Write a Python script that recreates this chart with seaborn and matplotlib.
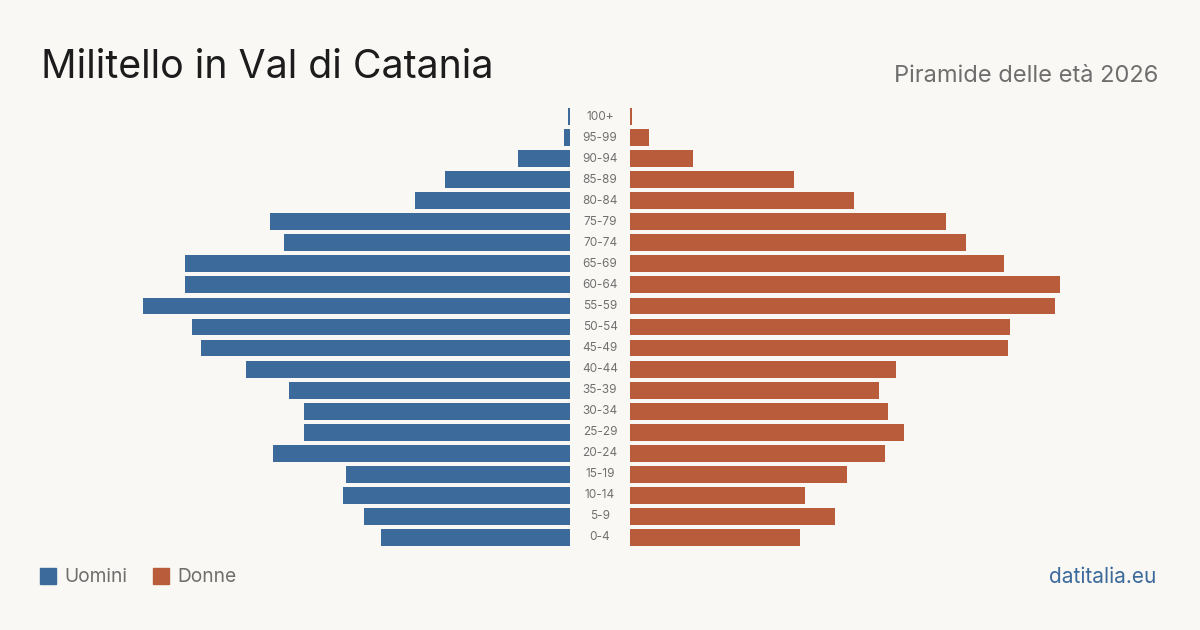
import matplotlib
matplotlib.use("Agg")
import matplotlib.pyplot as plt
import seaborn as sns
import pandas as pd
from matplotlib.patches import Rectangle

age_groups = ["100+", "95-99", "90-94", "85-89", "80-84", "75-79", "70-74", "65-69",
              "60-64", "55-59", "50-54", "45-49", "40-44", "35-39", "30-34", "25-29",
              "20-24", "15-19", "10-14", "5-9", "0-4"]
uomini = [2, 6, 52, 125, 155, 300, 286, 385, 385, 427, 378, 369, 324, 281, 266, 266,
          297, 224, 227, 206, 189]
donne = [2, 19, 63, 164, 224, 316, 336, 374, 430, 425, 380, 378, 266, 249, 258, 274,
         255, 217, 175, 205, 170]

BG = "#f9f8f4"
BLUE = "#3b6a9b"
ORANGE = "#b95c3c"

sns.set_theme(style="white")
plt.rcParams["font.family"] = ["Inter", "DejaVu Sans"]

df = pd.DataFrame({"age": age_groups, "Uomini": uomini, "Donne": donne})

W, H = 1200, 630
fig = plt.figure(figsize=(W / 100, H / 100), dpi=100)
fig.patch.set_facecolor(BG)

top, bottom = 106, 548
span = 450
axL = fig.add_axes([(570 - span) / W, 1 - bottom / H, span / W, (bottom - top) / H])
axR = fig.add_axes([630 / W, 1 - bottom / H, span / W, (bottom - top) / H])

sns.barplot(data=df, y="age", x="Uomini", order=age_groups, orient="h",
            color=BLUE, saturation=1, width=0.8, linewidth=0, edgecolor="none", ax=axL)
sns.barplot(data=df, y="age", x="Donne", order=age_groups, orient="h",
            color=ORANGE, saturation=1, width=0.8, linewidth=0, edgecolor="none", ax=axR)

axL.set_xlim(span, 0)
axR.set_xlim(0, span)
for ax in (axL, axR):
    ax.set_ylim(len(age_groups) - 0.5, -0.5)
    ax.set_facecolor("none")
    ax.axis("off")

# centre age labels
for i, lab in enumerate(age_groups):
    y = top + (i + 0.5) * (bottom - top) / len(age_groups)
    fig.text(600 / W, 1 - y / H, lab, ha="center", va="center",
             fontsize=8.5, color="#707070")

fig.text(41 / W, 1 - 67 / H, "Militello in Val di Catania", ha="left", va="center",
         fontsize=28.3, color="#1c1c1c")
fig.text(1158 / W, 1 - 76 / H, "Piramide delle età 2026", ha="right", va="center",
         fontsize=17, color="#6e6e6e")

# legend
fig.patches.append(Rectangle((40 / W, 1 - 584 / H), 16 / W, 16 / H,
                             transform=fig.transFigure, color=BLUE))
fig.text(64 / W, 1 - 577 / H, "Uomini", ha="left", va="center", fontsize=13.8, color="#6e6e6e")
fig.patches.append(Rectangle((153 / W, 1 - 584 / H), 16 / W, 16 / H,
                             transform=fig.transFigure, color=ORANGE))
fig.text(177 / W, 1 - 577 / H, "Donne", ha="left", va="center", fontsize=13.8, color="#6e6e6e")

fig.text(1156 / W, 1 - 577 / H, "datitalia.eu", ha="right", va="center",
         fontsize=15, color=BLUE)

fig.savefig("out.png", dpi=100, facecolor=BG)
